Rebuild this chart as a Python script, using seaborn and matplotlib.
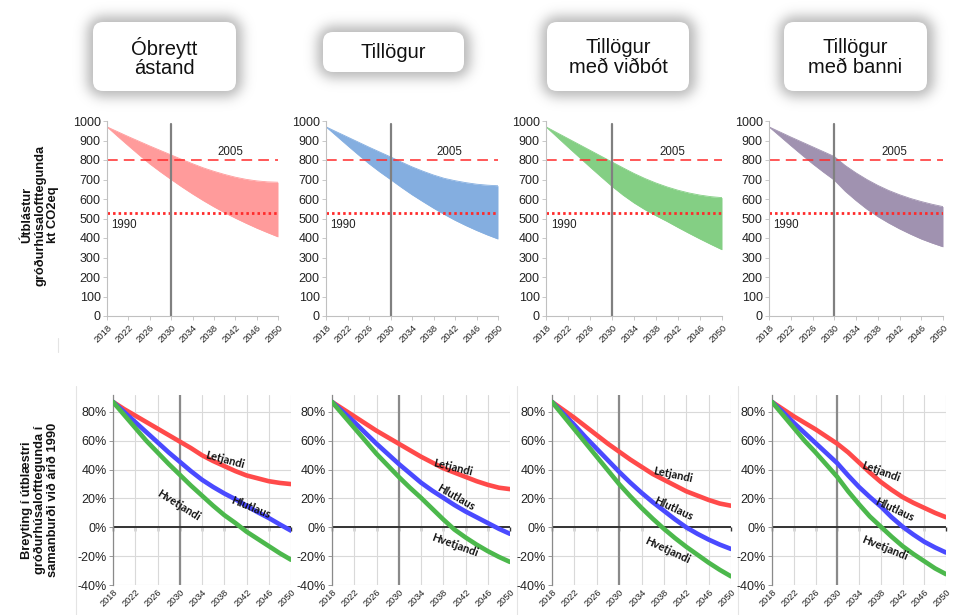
import numpy as np
import pandas as pd
import matplotlib
matplotlib.use("Agg")
import matplotlib.pyplot as plt
import seaborn as sns
from matplotlib.patches import FancyBboxPatch

# ---------------------------------------------------------------- data
years = [2018, 2020, 2022, 2024, 2026, 2028, 2030, 2032, 2034,
         2036, 2038, 2040, 2042, 2044, 2046, 2048, 2050]
tick_years = list(range(2018, 2051, 4))

scenario_titles = ["Óbreytt\nástand", "Tillögur", "Tillögur\nmeð viðbót", "Tillögur\nmeð banni"]

level_2005 = 800
level_1990 = 530
policy_year = 2030

# emissions range, kt CO2eq (upper / lower edge of each band)
obreytt_high = [970, 945, 920, 896, 872, 849, 826, 803, 781, 760, 742, 726, 712, 701, 693, 688, 686]
obreytt_low = [970, 921, 873, 826, 780, 739, 700, 662, 626, 592, 560, 530, 502, 476, 451, 428, 406]
tillogur_high = [970, 944, 918, 892, 866, 841, 816, 790, 765, 743, 723, 706, 694, 684, 676, 671, 668]
tillogur_low = [970, 922, 874, 827, 781, 739, 700, 660, 622, 587, 553, 521, 491, 464, 439, 416, 395]
vidbot_high = [970, 940, 910, 880, 850, 820, 790, 760, 731, 705, 682, 662, 645, 631, 620, 612, 607]
vidbot_low = [970, 918, 866, 815, 764, 714, 665, 620, 580, 545, 514, 485, 454, 424, 395, 367, 340]
banni_high = [970, 944, 918, 893, 868, 843, 818, 772, 734, 700, 670, 644, 622, 603, 587, 573, 561]
banni_low = [970, 922, 874, 827, 781, 738, 697, 640, 592, 548, 510, 477, 447, 420, 395, 374, 355]

# change relative to 1990, percent
obreytt_letjandi = [87, 82, 77.5, 73, 68.5, 64, 59.5, 55, 50, 46, 42.5, 39, 36, 34, 32, 30.8, 30]
obreytt_hlutlaus = [87, 80, 73, 66, 59, 52, 45.5, 39, 33, 28, 23.5, 19.5, 15, 10.5, 6.5, 2, -2.3]
obreytt_hvetjandi = [87, 78, 69, 60, 52, 44, 36.5, 29, 22, 15, 8.5, 3, -3, -8, -13, -18, -22.5]
tillogur_letjandi = [87, 82, 77, 72, 67, 62.5, 58, 53.5, 49, 45, 41, 38, 35, 32, 29.5, 27.5, 26.5]
tillogur_hlutlaus = [87, 80, 73, 65.5, 58, 51, 44, 37.5, 31, 25.5, 20.5, 15.5, 11, 7, 3, -1, -4.5]
tillogur_hvetjandi = [87, 78, 69, 60, 51, 43, 35, 27.5, 20.5, 13, 5.5, -1.5, -7, -12, -16.5, -20.5, -24]
vidbot_letjandi = [87, 81.5, 76, 70, 64, 58, 52.5, 47, 42, 37, 33, 29, 25, 22, 19, 16.5, 15]
vidbot_hlutlaus = [87, 79, 71, 62.5, 54.5, 46.5, 38.5, 31, 24, 17.5, 11.5, 5.5, 0, -4.5, -8.5, -12, -15]
vidbot_hvetjandi = [87, 77.5, 68, 58.5, 49, 39.5, 30, 21.5, 13.5, 6, -1, -7.5, -13.5, -19, -24.5, -29.5, -34]
banni_letjandi = [87, 82, 77, 72.5, 68, 63, 58, 52, 45, 38, 31.5, 26, 21, 17, 13.5, 10, 7]
banni_hlutlaus = [87, 80, 72.5, 65.5, 58.5, 51.5, 44.5, 36, 28, 21, 14.5, 7, 0.5, -5, -10, -14, -17.5]
banni_hvetjandi = [87, 78, 69, 60, 52, 43.5, 35, 25, 16, 7.5, 0.5, -6.5, -13, -18.5, -23.5, -28.5, -32.5]

series_names = ["Letjandi", "Hlutlaus", "Hvetjandi"]

bands = [(obreytt_high, obreytt_low), (tillogur_high, tillogur_low),
         (vidbot_high, vidbot_low), (banni_high, banni_low)]
changes = [(obreytt_letjandi, obreytt_hlutlaus, obreytt_hvetjandi),
           (tillogur_letjandi, tillogur_hlutlaus, tillogur_hvetjandi),
           (vidbot_letjandi, vidbot_hlutlaus, vidbot_hvetjandi),
           (banni_letjandi, banni_hlutlaus, banni_hvetjandi)]

# label placement for the curve names: (year, value, rotation)
label_spots = [
    {"Letjandi": (2038.2, 46.8, -15), "Hlutlaus": (2042.7, 13.9, -22), "Hvetjandi": (2029.8, 15.5, -32)},
    {"Letjandi": (2039.8, 41.7, -14), "Hlutlaus": (2040.2, 20.8, -30), "Hvetjandi": (2040.0, -12.3, -20)},
    {"Letjandi": (2039.6, 36.8, -12), "Hlutlaus": (2039.8, 13.2, -25), "Hvetjandi": (2038.6, -15.8, -25)},
    {"Letjandi": (2038.0, 38.7, -20), "Hlutlaus": (2040.6, 12.5, -25), "Hvetjandi": (2038.7, -14.6, -22)},
]

# ---------------------------------------------------------------- style
band_colors = ["#ff9b9b", "#84aee0", "#84cf84", "#a092b0"]
line_palette = {"Letjandi": "#ff4a4a", "Hlutlaus": "#4a4aff", "Hvetjandi": "#4cb84c"}

sns.set_theme(style="white")
plt.rcParams["font.family"] = ["Liberation Sans", "DejaVu Sans"]

W, H = 955, 615
fig = plt.figure(figsize=(W / 100, H / 100), dpi=100)
fig.patch.set_facecolor("white")

# background layer in pixel coordinates (header cards, separators)
bg = fig.add_axes([0, 0, 1, 1], zorder=-5)
bg.set_xlim(0, W)
bg.set_ylim(H, 0)
bg.axis("off")

cards = [(93, 22, 236, 91), (323, 32, 464, 72), (547, 22, 689, 91), (784, 22, 927, 91)]
radius = 10


def rounded_mask(x0, y0, x1, y1, r, grow):
    yy, xx = np.mgrid[0:H, 0:W] + 0.5
    x0, y0, x1, y1, r = x0 - grow, y0 - grow, x1 + grow, y1 + grow, r + grow
    dx = np.maximum(np.maximum(x0 + r - xx, xx - (x1 - r)), 0)
    dy = np.maximum(np.maximum(y0 + r - yy, yy - (y1 - r)), 0)
    return (dx ** 2 + dy ** 2 <= r ** 2).astype(float)


def gaussian_blur(img, sigma):
    r = int(3 * sigma)
    k = np.exp(-0.5 * (np.arange(-r, r + 1) / sigma) ** 2)
    k /= k.sum()
    img = np.apply_along_axis(lambda v: np.convolve(v, k, mode="same"), 0, img)
    img = np.apply_along_axis(lambda v: np.convolve(v, k, mode="same"), 1, img)
    return img


glow = np.zeros((H, W))
for c in cards:
    glow = np.maximum(glow, rounded_mask(*c, radius, 6))
glow = gaussian_blur(glow, 6)
shade = np.zeros((H, W, 4))
shade[..., :3] = 0.55
shade[..., 3] = np.clip(glow * 0.62, 0, 1)
bg.imshow(shade, extent=(0, W, H, 0), interpolation="bilinear", aspect="auto")

for (x0, y0, x1, y1), title in zip(cards, scenario_titles):
    bg.add_patch(FancyBboxPatch((x0 + radius, y0 + radius), x1 - x0 - 2 * radius, y1 - y0 - 2 * radius,
                                boxstyle=f"round,pad={radius}", fc="white", ec="none"))
    bg.text((x0 + x1) / 2, (y0 + y1) / 2 + 1, title, ha="center", va="center",
            fontsize=14.5, color="#111111", linespacing=1.05)

for x in (76, 517, 738):
    bg.plot([x, x], [386, 615], color="#e4e4e4", lw=0.8)
bg.plot([58, 58], [338, 352], color="#e4e4e4", lw=0.8)

# row titles
bg.text(40, 215, "Útblástur\ngróðurhúsalofttegunda\nkt CO2eq", rotation=90, ha="center", va="center",
        fontsize=9.3, fontweight="bold", color="#111111", linespacing=1.05)
bg.text(40, 500, "Breyting í útblæstri\ngróðurhúsalofttegunda í\nsamanburði við árið 1990", rotation=90,
        ha="center", va="center", fontsize=9.3, fontweight="bold", color="#111111", linespacing=1.05)

top_x = [(107, 278), (326, 498), (546, 722), (769, 943)]
bot_x = [(113, 291), (332, 510), (552, 731), (772, 946)]
top_y = (121, 316)
bot_ylim = (-40, 92)
bot_y = (394.7, 585)


def rect(xs, ys):
    return [xs[0] / W, 1 - ys[1] / H, (xs[1] - xs[0]) / W, (ys[1] - ys[0]) / H]


def slant_labels(axis_obj):
    for lab in axis_obj.get_xticklabels():
        lab.set_rotation(45)
        lab.set_ha("right")
        lab.set_va("top")
        lab.set_rotation_mode("anchor")


tick_color = "#222222"

for i in range(4):
    # ---------------- emissions band
    ax = fig.add_axes(rect(top_x[i], top_y))
    high, low = bands[i]
    band_df = pd.DataFrame({"year": years, "high": high, "low": low})
    ax.fill_between(band_df["year"], band_df["low"], band_df["high"], color=band_colors[i], lw=0)
    sns.lineplot(data=band_df, x="year", y="high", color=band_colors[i], lw=0.6, ax=ax)
    sns.lineplot(data=band_df, x="year", y="low", color=band_colors[i], lw=0.6, ax=ax)
    ax.axhline(level_2005, color="#ff2a2a", lw=1.1, dashes=(7, 4))
    ax.axhline(level_1990, color="#ff2a2a", lw=2.0, dashes=(0.9, 1.1))
    ax.axvline(policy_year, ymin=0, ymax=0.985, color="#808080", lw=1.6)
    ax.text(2041, 840, "2005", fontsize=8.3, ha="center", va="center", color="#222222")
    ax.text(2021.2, 466, "1990", fontsize=8.3, ha="center", va="center", color="#222222")
    ax.set_xlim(2018, 2050)
    ax.set_ylim(0, 1000)
    ax.set_xticks(tick_years)
    ax.set_yticks(range(0, 1001, 100))
    ax.set_xlabel("")
    ax.set_ylabel("")
    ax.tick_params(axis="x", labelsize=6.8, colors=tick_color, length=3, width=0.6, direction="out",
                   bottom=True, pad=2, color="#bfbfbf")
    ax.tick_params(axis="y", labelsize=9, colors=tick_color, length=3, width=0.6, direction="out",
                   left=True, pad=1.5, color="#bfbfbf")
    slant_labels(ax)
    for s in ("top", "right"):
        ax.spines[s].set_visible(False)
    for s in ("left", "bottom"):
        ax.spines[s].set_color("#c0c0c0")
        ax.spines[s].set_linewidth(0.8)
    ax.set_facecolor("none")

    # ---------------- change relative to 1990
    bx = fig.add_axes(rect(bot_x[i], bot_y))
    line_df = pd.concat([pd.DataFrame({"year": years, "value": vals, "series": name})
                         for name, vals in zip(series_names, changes[i])], ignore_index=True)
    bx.set_xlim(2018, 2050)
    bx.set_ylim(*bot_ylim)
    bx.set_xticks(tick_years)
    bx.set_yticks(range(-40, 81, 20))
    bx.grid(True, color="#d9d9d9", lw=0.8)
    bx.set_axisbelow(True)
    bx.axvline(policy_year, color="#8a8a8a", lw=1.6, zorder=1.5)
    bx.axhline(0, color="#333333", lw=1.4, zorder=1.6)
    sns.lineplot(data=line_df, x="year", y="value", hue="series", palette=line_palette,
                 hue_order=series_names, lw=3.3, legend=False, ax=bx, zorder=3)
    for name in series_names:
        lx, ly, rot = label_spots[i][name]
        bx.text(lx, ly, name, rotation=rot, rotation_mode="anchor", ha="center", va="center",
                fontsize=8, fontweight="bold", family=["Lato", "DejaVu Sans"], color="#111111", zorder=4)
    bx.set_xlabel("")
    bx.set_ylabel("")
    bx.yaxis.set_major_formatter(matplotlib.ticker.FuncFormatter(lambda v, p: f"{v:.0f}%"))
    bx.tick_params(axis="x", labelsize=6.6, colors=tick_color, length=0, pad=2)
    bx.tick_params(axis="y", labelsize=9, colors=tick_color, length=3, width=0.6, direction="out",
                   left=True, pad=1.5, color="#888888")
    slant_labels(bx)
    for s in ("top", "right", "bottom"):
        bx.spines[s].set_visible(False)
    bx.spines["left"].set_color("#8a8a8a")
    bx.spines["left"].set_linewidth(0.9)
    zero_frac = (0 - bot_ylim[0]) / (bot_ylim[1] - bot_ylim[0])
    zero_axis = bx.secondary_xaxis(zero_frac)
    zero_axis.set_xticks(tick_years)
    zero_axis.tick_params(axis="x", length=3, width=1.0, direction="out", labelbottom=False,
                          color="#333333")
    zero_axis.spines["bottom"].set_visible(False)
    bx.set_facecolor("none")

fig.savefig("out.png", dpi=100, facecolor="white")
